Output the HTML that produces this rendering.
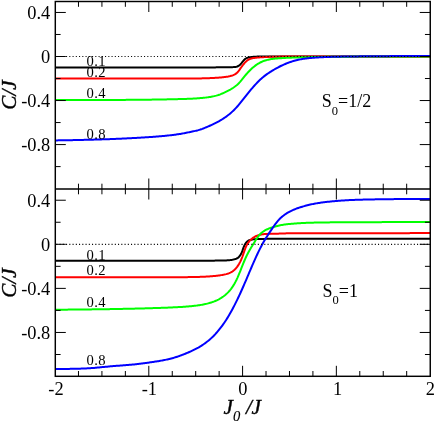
<!DOCTYPE html>
<html><head><meta charset="utf-8"><title>plot</title>
<style>
html,body{margin:0;padding:0;background:#fff;}
body{width:436px;height:424px;overflow:hidden;}
svg{display:block;}
text{font-family:"Liberation Serif",serif;fill:#000;}
.tl{font-size:18.4px;}
.cl{font-size:14.6px;letter-spacing:0.3px;}
.ax{font-size:21.2px;font-style:italic;stroke:#000;stroke-width:0.4px;}
.an{font-size:18px;}
</style></head><body>
<svg width="436" height="424" viewBox="0 0 436 424">
<rect x="0" y="0" width="436" height="424" fill="#fff"/>

<g fill="none" stroke-width="2" stroke-linejoin="round">
<path stroke="#000000" d="M55.3 67.50 L56.3 67.50 L57.3 67.50 L58.3 67.50 L59.3 67.50 L60.3 67.50 L61.3 67.50 L62.3 67.50 L63.3 67.50 L64.3 67.50 L65.3 67.50 L66.3 67.50 L67.3 67.50 L68.3 67.50 L69.3 67.50 L70.3 67.50 L71.3 67.50 L72.3 67.50 L73.3 67.50 L74.3 67.50 L75.3 67.50 L76.3 67.50 L77.3 67.50 L78.3 67.50 L79.3 67.50 L80.3 67.50 L81.3 67.50 L82.3 67.50 L83.3 67.50 L84.3 67.50 L85.3 67.50 L86.3 67.50 L87.3 67.50 L88.3 67.50 L89.3 67.50 L90.3 67.50 L91.3 67.50 L92.3 67.50 L93.3 67.50 L94.3 67.50 L95.3 67.50 L96.3 67.50 L97.3 67.50 L98.3 67.50 L99.3 67.50 L100.3 67.50 L101.3 67.50 L102.3 67.50 L103.3 67.50 L104.3 67.50 L105.3 67.50 L106.3 67.50 L107.3 67.50 L108.3 67.50 L109.3 67.50 L110.3 67.50 L111.3 67.50 L112.3 67.50 L113.3 67.50 L114.3 67.50 L115.3 67.50 L116.3 67.50 L117.3 67.50 L118.3 67.50 L119.3 67.50 L120.3 67.50 L121.3 67.50 L122.3 67.50 L123.3 67.50 L124.3 67.50 L125.3 67.50 L126.3 67.50 L127.3 67.50 L128.3 67.50 L129.3 67.50 L130.3 67.50 L131.3 67.50 L132.3 67.50 L133.3 67.50 L134.3 67.50 L135.3 67.50 L136.3 67.50 L137.3 67.50 L138.3 67.50 L139.3 67.50 L140.3 67.50 L141.3 67.50 L142.3 67.50 L143.3 67.50 L144.3 67.50 L145.3 67.50 L146.3 67.50 L147.3 67.50 L148.3 67.50 L149.3 67.50 L150.3 67.50 L151.3 67.50 L152.3 67.50 L153.3 67.50 L154.3 67.50 L155.3 67.50 L156.3 67.50 L157.3 67.50 L158.3 67.50 L159.3 67.50 L160.3 67.50 L161.3 67.50 L162.3 67.50 L163.3 67.50 L164.3 67.50 L165.3 67.50 L166.3 67.50 L167.3 67.50 L168.3 67.50 L169.3 67.50 L170.3 67.50 L171.3 67.50 L172.3 67.50 L173.3 67.50 L174.3 67.50 L175.3 67.50 L176.3 67.50 L177.3 67.50 L178.3 67.50 L179.3 67.50 L180.3 67.50 L181.3 67.50 L182.3 67.50 L183.3 67.50 L184.3 67.50 L185.3 67.50 L186.3 67.50 L187.3 67.50 L188.3 67.50 L189.3 67.50 L190.3 67.50 L191.3 67.50 L192.3 67.50 L193.3 67.50 L194.3 67.50 L195.3 67.50 L196.3 67.50 L197.3 67.50 L198.3 67.50 L199.3 67.50 L200.3 67.50 L201.3 67.50 L202.3 67.50 L203.3 67.50 L204.3 67.50 L205.3 67.50 L206.3 67.50 L207.3 67.49 L208.3 67.49 L209.3 67.49 L210.3 67.48 L211.3 67.47 L212.3 67.46 L213.3 67.44 L214.3 67.42 L215.3 67.39 L216.3 67.36 L217.3 67.33 L218.3 67.30 L219.3 67.27 L220.3 67.25 L221.3 67.23 L222.3 67.22 L223.3 67.21 L224.3 67.21 L225.3 67.20 L226.3 67.20 L227.3 67.20 L228.3 67.19 L229.3 67.19 L230.3 67.18 L231.3 67.16 L232.3 67.14 L233.3 67.10 L234.3 67.03 L235.3 66.93 L236.3 66.75 L237.3 66.47 L238.3 66.03 L239.3 65.38 L240.3 64.49 L241.3 63.35 L242.3 62.07 L243.3 60.81 L244.3 59.71 L245.3 58.86 L246.3 58.25 L247.3 57.84 L248.3 57.55 L249.3 57.32 L250.3 57.12 L251.3 56.97 L252.3 56.89 L253.3 56.85 L254.3 56.82 L255.3 56.76 L256.3 56.67 L257.3 56.58 L258.3 56.53 L259.3 56.51 L260.3 56.50 L261.3 56.50 L262.3 56.50 L263.3 56.50 L264.3 56.50 L265.3 56.50 L266.3 56.50 L267.3 56.50 L268.3 56.50 L269.3 56.50 L270.3 56.50 L271.3 56.50 L272.3 56.50 L273.3 56.50 L274.3 56.50 L275.3 56.50 L276.3 56.50 L277.3 56.50 L278.3 56.50 L279.3 56.50 L280.3 56.50 L281.3 56.50 L282.3 56.50 L283.3 56.50 L284.3 56.50 L285.3 56.50 L286.3 56.50 L287.3 56.50 L288.3 56.50 L289.3 56.50 L290.3 56.50 L291.3 56.50 L292.3 56.50 L293.3 56.50 L294.3 56.50 L295.3 56.50 L296.3 56.50 L297.3 56.50 L298.3 56.50 L299.3 56.50 L300.3 56.50 L301.3 56.50 L302.3 56.50 L303.3 56.50 L304.3 56.50 L305.3 56.50 L306.3 56.50 L307.3 56.50 L308.3 56.50 L309.3 56.50 L310.3 56.50 L311.3 56.50 L312.3 56.50 L313.3 56.50 L314.3 56.50 L315.3 56.50 L316.3 56.50 L317.3 56.50 L318.3 56.50 L319.3 56.50 L320.3 56.50 L321.3 56.50 L322.3 56.50 L323.3 56.50 L324.3 56.50 L325.3 56.50 L326.3 56.50 L327.3 56.50 L328.3 56.50 L329.3 56.50 L330.3 56.50 L331.3 56.50 L332.3 56.50 L333.3 56.50 L334.3 56.50 L335.3 56.50 L336.3 56.50 L337.3 56.50 L338.3 56.50 L339.3 56.50 L340.3 56.50 L341.3 56.50 L342.3 56.50 L343.3 56.50 L344.3 56.50 L345.3 56.50 L346.3 56.50 L347.3 56.50 L348.3 56.50 L349.3 56.50 L350.3 56.50 L351.3 56.50 L352.3 56.50 L353.3 56.50 L354.3 56.50 L355.3 56.50 L356.3 56.50 L357.3 56.50 L358.3 56.50 L359.3 56.50 L360.3 56.50 L361.3 56.50 L362.3 56.50 L363.3 56.50 L364.3 56.50 L365.3 56.50 L366.3 56.50 L367.3 56.50 L368.3 56.50 L369.3 56.50 L370.3 56.50 L371.3 56.50 L372.3 56.50 L373.3 56.50 L374.3 56.50 L375.3 56.50 L376.3 56.50 L377.3 56.50 L378.3 56.50 L379.3 56.50 L380.3 56.50 L381.3 56.50 L382.3 56.50 L383.3 56.50 L384.3 56.50 L385.3 56.50 L386.3 56.50 L387.3 56.50 L388.3 56.50 L389.3 56.50 L390.3 56.50 L391.3 56.50 L392.3 56.50 L393.3 56.50 L394.3 56.50 L395.3 56.50 L396.3 56.50 L397.3 56.50 L398.3 56.50 L399.3 56.50 L400.3 56.50 L401.3 56.50 L402.3 56.50 L403.3 56.50 L404.3 56.50 L405.3 56.50 L406.3 56.50 L407.3 56.50 L408.3 56.50 L409.3 56.50 L410.3 56.50 L411.3 56.50 L412.3 56.50 L413.3 56.50 L414.3 56.50 L415.3 56.50 L416.3 56.50 L417.3 56.50 L418.3 56.50 L419.3 56.50 L420.3 56.50 L421.3 56.50 L422.3 56.50 L423.3 56.50 L424.3 56.50 L425.3 56.50 L426.3 56.50 L427.3 56.50 L428.3 56.50 L429.3 56.50 L430.2 56.50"/>
<path stroke="#ff0000" d="M55.3 78.60 L56.3 78.60 L57.3 78.60 L58.3 78.60 L59.3 78.60 L60.3 78.60 L61.3 78.60 L62.3 78.60 L63.3 78.60 L64.3 78.60 L65.3 78.60 L66.3 78.60 L67.3 78.60 L68.3 78.60 L69.3 78.60 L70.3 78.60 L71.3 78.60 L72.3 78.60 L73.3 78.60 L74.3 78.60 L75.3 78.60 L76.3 78.60 L77.3 78.60 L78.3 78.60 L79.3 78.60 L80.3 78.60 L81.3 78.60 L82.3 78.60 L83.3 78.60 L84.3 78.60 L85.3 78.60 L86.3 78.60 L87.3 78.60 L88.3 78.60 L89.3 78.60 L90.3 78.60 L91.3 78.60 L92.3 78.60 L93.3 78.60 L94.3 78.60 L95.3 78.60 L96.3 78.60 L97.3 78.60 L98.3 78.60 L99.3 78.60 L100.3 78.60 L101.3 78.60 L102.3 78.60 L103.3 78.60 L104.3 78.60 L105.3 78.60 L106.3 78.60 L107.3 78.60 L108.3 78.60 L109.3 78.60 L110.3 78.60 L111.3 78.60 L112.3 78.60 L113.3 78.60 L114.3 78.60 L115.3 78.60 L116.3 78.60 L117.3 78.60 L118.3 78.60 L119.3 78.60 L120.3 78.60 L121.3 78.60 L122.3 78.60 L123.3 78.60 L124.3 78.60 L125.3 78.60 L126.3 78.60 L127.3 78.60 L128.3 78.60 L129.3 78.60 L130.3 78.60 L131.3 78.60 L132.3 78.60 L133.3 78.60 L134.3 78.60 L135.3 78.60 L136.3 78.60 L137.3 78.60 L138.3 78.60 L139.3 78.60 L140.3 78.60 L141.3 78.60 L142.3 78.60 L143.3 78.60 L144.3 78.60 L145.3 78.60 L146.3 78.60 L147.3 78.60 L148.3 78.60 L149.3 78.60 L150.3 78.60 L151.3 78.60 L152.3 78.60 L153.3 78.60 L154.3 78.60 L155.3 78.60 L156.3 78.60 L157.3 78.60 L158.3 78.60 L159.3 78.60 L160.3 78.60 L161.3 78.60 L162.3 78.60 L163.3 78.60 L164.3 78.60 L165.3 78.60 L166.3 78.59 L167.3 78.59 L168.3 78.59 L169.3 78.59 L170.3 78.59 L171.3 78.59 L172.3 78.59 L173.3 78.59 L174.3 78.58 L175.3 78.58 L176.3 78.58 L177.3 78.58 L178.3 78.58 L179.3 78.57 L180.3 78.57 L181.3 78.57 L182.3 78.56 L183.3 78.56 L184.3 78.55 L185.3 78.55 L186.3 78.54 L187.3 78.54 L188.3 78.53 L189.3 78.53 L190.3 78.52 L191.3 78.51 L192.3 78.50 L193.3 78.49 L194.3 78.48 L195.3 78.47 L196.3 78.46 L197.3 78.44 L198.3 78.43 L199.3 78.41 L200.3 78.40 L201.3 78.38 L202.3 78.36 L203.3 78.33 L204.3 78.31 L205.3 78.28 L206.3 78.25 L207.3 78.22 L208.3 78.19 L209.3 78.15 L210.3 78.11 L211.3 78.06 L212.3 78.02 L213.3 77.97 L214.3 77.91 L215.3 77.85 L216.3 77.79 L217.3 77.72 L218.3 77.65 L219.3 77.57 L220.3 77.48 L221.3 77.40 L222.3 77.30 L223.3 77.20 L224.3 77.09 L225.3 76.97 L226.3 76.85 L227.3 76.71 L228.3 76.55 L229.3 76.35 L230.3 76.08 L231.3 75.78 L232.3 75.47 L233.3 75.12 L234.3 74.70 L235.3 74.14 L236.3 73.42 L237.3 72.49 L238.3 71.36 L239.3 70.05 L240.3 68.64 L241.3 67.21 L242.3 65.82 L243.3 64.51 L244.3 63.30 L245.3 62.19 L246.3 61.23 L247.3 60.41 L248.3 59.75 L249.3 59.23 L250.3 58.83 L251.3 58.52 L252.3 58.28 L253.3 58.08 L254.3 57.92 L255.3 57.79 L256.3 57.67 L257.3 57.57 L258.3 57.48 L259.3 57.40 L260.3 57.32 L261.3 57.25 L262.3 57.19 L263.3 57.13 L264.3 57.08 L265.3 57.03 L266.3 56.98 L267.3 56.94 L268.3 56.90 L269.3 56.87 L270.3 56.83 L271.3 56.80 L272.3 56.77 L273.3 56.75 L274.3 56.72 L275.3 56.70 L276.3 56.68 L277.3 56.66 L278.3 56.65 L279.3 56.63 L280.3 56.62 L281.3 56.60 L282.3 56.59 L283.3 56.58 L284.3 56.57 L285.3 56.56 L286.3 56.55 L287.3 56.54 L288.3 56.54 L289.3 56.53 L290.3 56.53 L291.3 56.52 L292.3 56.51 L293.3 56.51 L294.3 56.51 L295.3 56.50 L296.3 56.50 L297.3 56.50 L298.3 56.49 L299.3 56.49 L300.3 56.49 L301.3 56.49 L302.3 56.48 L303.3 56.48 L304.3 56.48 L305.3 56.48 L306.3 56.48 L307.3 56.48 L308.3 56.47 L309.3 56.47 L310.3 56.47 L311.3 56.47 L312.3 56.47 L313.3 56.47 L314.3 56.47 L315.3 56.47 L316.3 56.47 L317.3 56.47 L318.3 56.47 L319.3 56.47 L320.3 56.47 L321.3 56.47 L322.3 56.47 L323.3 56.47 L324.3 56.47 L325.3 56.47 L326.3 56.47 L327.3 56.46 L328.3 56.46 L329.3 56.46 L330.3 56.46 L331.3 56.46 L332.3 56.46 L333.3 56.46 L334.3 56.46 L335.3 56.46 L336.3 56.46 L337.3 56.46 L338.3 56.46 L339.3 56.46 L340.3 56.46 L341.3 56.46 L342.3 56.46 L343.3 56.46 L344.3 56.46 L345.3 56.46 L346.3 56.46 L347.3 56.46 L348.3 56.46 L349.3 56.46 L350.3 56.46 L351.3 56.46 L352.3 56.46 L353.3 56.46 L354.3 56.46 L355.3 56.46 L356.3 56.46 L357.3 56.46 L358.3 56.46 L359.3 56.46 L360.3 56.46 L361.3 56.46 L362.3 56.46 L363.3 56.46 L364.3 56.46 L365.3 56.46 L366.3 56.46 L367.3 56.46 L368.3 56.46 L369.3 56.46 L370.3 56.46 L371.3 56.46 L372.3 56.46 L373.3 56.46 L374.3 56.46 L375.3 56.46 L376.3 56.46 L377.3 56.46 L378.3 56.46 L379.3 56.46 L380.3 56.46 L381.3 56.46 L382.3 56.46 L383.3 56.46 L384.3 56.46 L385.3 56.46 L386.3 56.46 L387.3 56.46 L388.3 56.46 L389.3 56.46 L390.3 56.46 L391.3 56.46 L392.3 56.46 L393.3 56.46 L394.3 56.46 L395.3 56.46 L396.3 56.46 L397.3 56.46 L398.3 56.46 L399.3 56.46 L400.3 56.46 L401.3 56.46 L402.3 56.46 L403.3 56.46 L404.3 56.46 L405.3 56.46 L406.3 56.46 L407.3 56.46 L408.3 56.46 L409.3 56.46 L410.3 56.46 L411.3 56.46 L412.3 56.46 L413.3 56.46 L414.3 56.46 L415.3 56.46 L416.3 56.46 L417.3 56.46 L418.3 56.46 L419.3 56.46 L420.3 56.46 L421.3 56.46 L422.3 56.46 L423.3 56.46 L424.3 56.46 L425.3 56.46 L426.3 56.46 L427.3 56.46 L428.3 56.46 L429.3 56.46 L430.2 56.46"/>
<path stroke="#00ff00" d="M55.3 100.09 L56.3 100.09 L57.3 100.09 L58.3 100.09 L59.3 100.09 L60.3 100.09 L61.3 100.09 L62.3 100.09 L63.3 100.08 L64.3 100.08 L65.3 100.08 L66.3 100.08 L67.3 100.08 L68.3 100.08 L69.3 100.08 L70.3 100.07 L71.3 100.07 L72.3 100.07 L73.3 100.07 L74.3 100.07 L75.3 100.07 L76.3 100.06 L77.3 100.06 L78.3 100.06 L79.3 100.06 L80.3 100.06 L81.3 100.06 L82.3 100.05 L83.3 100.05 L84.3 100.05 L85.3 100.05 L86.3 100.04 L87.3 100.04 L88.3 100.04 L89.3 100.04 L90.3 100.03 L91.3 100.03 L92.3 100.03 L93.3 100.03 L94.3 100.02 L95.3 100.02 L96.3 100.02 L97.3 100.01 L98.3 100.01 L99.3 100.01 L100.3 100.00 L101.3 100.00 L102.3 100.00 L103.3 99.99 L104.3 99.99 L105.3 99.99 L106.3 99.98 L107.3 99.98 L108.3 99.97 L109.3 99.97 L110.3 99.96 L111.3 99.96 L112.3 99.95 L113.3 99.95 L114.3 99.94 L115.3 99.94 L116.3 99.93 L117.3 99.93 L118.3 99.92 L119.3 99.92 L120.3 99.91 L121.3 99.91 L122.3 99.90 L123.3 99.89 L124.3 99.89 L125.3 99.88 L126.3 99.87 L127.3 99.87 L128.3 99.86 L129.3 99.85 L130.3 99.84 L131.3 99.84 L132.3 99.83 L133.3 99.82 L134.3 99.81 L135.3 99.80 L136.3 99.79 L137.3 99.78 L138.3 99.78 L139.3 99.77 L140.3 99.76 L141.3 99.75 L142.3 99.74 L143.3 99.73 L144.3 99.71 L145.3 99.70 L146.3 99.69 L147.3 99.68 L148.3 99.67 L149.3 99.66 L150.3 99.64 L151.3 99.63 L152.3 99.62 L153.3 99.60 L154.3 99.59 L155.3 99.57 L156.3 99.56 L157.3 99.55 L158.3 99.53 L159.3 99.51 L160.3 99.50 L161.3 99.48 L162.3 99.46 L163.3 99.45 L164.3 99.43 L165.3 99.41 L166.3 99.39 L167.3 99.37 L168.3 99.35 L169.3 99.33 L170.3 99.31 L171.3 99.29 L172.3 99.27 L173.3 99.25 L174.3 99.22 L175.3 99.20 L176.3 99.17 L177.3 99.15 L178.3 99.12 L179.3 99.10 L180.3 99.07 L181.3 99.04 L182.3 99.01 L183.3 98.98 L184.3 98.95 L185.3 98.91 L186.3 98.88 L187.3 98.84 L188.3 98.80 L189.3 98.76 L190.3 98.72 L191.3 98.68 L192.3 98.63 L193.3 98.58 L194.3 98.52 L195.3 98.47 L196.3 98.41 L197.3 98.34 L198.3 98.27 L199.3 98.20 L200.3 98.12 L201.3 98.03 L202.3 97.94 L203.3 97.84 L204.3 97.73 L205.3 97.62 L206.3 97.50 L207.3 97.37 L208.3 97.24 L209.3 97.10 L210.3 96.94 L211.3 96.77 L212.3 96.58 L213.3 96.38 L214.3 96.15 L215.3 95.90 L216.3 95.64 L217.3 95.34 L218.3 95.03 L219.3 94.69 L220.3 94.33 L221.3 93.94 L222.3 93.53 L223.3 93.10 L224.3 92.66 L225.3 92.20 L226.3 91.72 L227.3 91.22 L228.3 90.70 L229.3 90.16 L230.3 89.60 L231.3 89.01 L232.3 88.39 L233.3 87.74 L234.3 87.05 L235.3 86.31 L236.3 85.51 L237.3 84.65 L238.3 83.71 L239.3 82.70 L240.3 81.60 L241.3 80.44 L242.3 79.21 L243.3 77.95 L244.3 76.69 L245.3 75.44 L246.3 74.24 L247.3 73.09 L248.3 71.99 L249.3 70.95 L250.3 69.96 L251.3 69.01 L252.3 68.10 L253.3 67.23 L254.3 66.41 L255.3 65.62 L256.3 64.89 L257.3 64.22 L258.3 63.59 L259.3 63.01 L260.3 62.48 L261.3 62.00 L262.3 61.55 L263.3 61.15 L264.3 60.78 L265.3 60.45 L266.3 60.16 L267.3 59.90 L268.3 59.66 L269.3 59.45 L270.3 59.26 L271.3 59.10 L272.3 58.95 L273.3 58.82 L274.3 58.70 L275.3 58.60 L276.3 58.50 L277.3 58.42 L278.3 58.34 L279.3 58.26 L280.3 58.19 L281.3 58.13 L282.3 58.07 L283.3 58.01 L284.3 57.95 L285.3 57.90 L286.3 57.85 L287.3 57.80 L288.3 57.76 L289.3 57.71 L290.3 57.67 L291.3 57.63 L292.3 57.59 L293.3 57.55 L294.3 57.51 L295.3 57.48 L296.3 57.44 L297.3 57.41 L298.3 57.38 L299.3 57.36 L300.3 57.33 L301.3 57.30 L302.3 57.28 L303.3 57.26 L304.3 57.24 L305.3 57.21 L306.3 57.19 L307.3 57.17 L308.3 57.15 L309.3 57.13 L310.3 57.11 L311.3 57.09 L312.3 57.08 L313.3 57.06 L314.3 57.04 L315.3 57.02 L316.3 57.01 L317.3 56.99 L318.3 56.98 L319.3 56.96 L320.3 56.94 L321.3 56.93 L322.3 56.91 L323.3 56.90 L324.3 56.89 L325.3 56.87 L326.3 56.86 L327.3 56.85 L328.3 56.83 L329.3 56.82 L330.3 56.81 L331.3 56.80 L332.3 56.79 L333.3 56.78 L334.3 56.76 L335.3 56.75 L336.3 56.74 L337.3 56.73 L338.3 56.72 L339.3 56.71 L340.3 56.70 L341.3 56.70 L342.3 56.69 L343.3 56.68 L344.3 56.67 L345.3 56.66 L346.3 56.65 L347.3 56.64 L348.3 56.64 L349.3 56.63 L350.3 56.62 L351.3 56.62 L352.3 56.61 L353.3 56.60 L354.3 56.60 L355.3 56.59 L356.3 56.58 L357.3 56.58 L358.3 56.57 L359.3 56.56 L360.3 56.56 L361.3 56.55 L362.3 56.55 L363.3 56.54 L364.3 56.54 L365.3 56.53 L366.3 56.53 L367.3 56.52 L368.3 56.52 L369.3 56.52 L370.3 56.51 L371.3 56.51 L372.3 56.50 L373.3 56.50 L374.3 56.49 L375.3 56.49 L376.3 56.49 L377.3 56.48 L378.3 56.48 L379.3 56.48 L380.3 56.47 L381.3 56.47 L382.3 56.47 L383.3 56.46 L384.3 56.46 L385.3 56.46 L386.3 56.46 L387.3 56.45 L388.3 56.45 L389.3 56.45 L390.3 56.45 L391.3 56.44 L392.3 56.44 L393.3 56.44 L394.3 56.44 L395.3 56.43 L396.3 56.43 L397.3 56.43 L398.3 56.43 L399.3 56.43 L400.3 56.42 L401.3 56.42 L402.3 56.42 L403.3 56.42 L404.3 56.42 L405.3 56.42 L406.3 56.41 L407.3 56.41 L408.3 56.41 L409.3 56.41 L410.3 56.41 L411.3 56.41 L412.3 56.41 L413.3 56.40 L414.3 56.40 L415.3 56.40 L416.3 56.40 L417.3 56.40 L418.3 56.40 L419.3 56.40 L420.3 56.40 L421.3 56.39 L422.3 56.39 L423.3 56.39 L424.3 56.39 L425.3 56.39 L426.3 56.39 L427.3 56.39 L428.3 56.39 L429.3 56.39 L430.2 56.39"/>
<path stroke="#0000ff" d="M55.3 140.40 L56.3 140.39 L57.3 140.38 L58.3 140.36 L59.3 140.35 L60.3 140.33 L61.3 140.32 L62.3 140.30 L63.3 140.28 L64.3 140.27 L65.3 140.25 L66.3 140.24 L67.3 140.22 L68.3 140.20 L69.3 140.18 L70.3 140.16 L71.3 140.15 L72.3 140.13 L73.3 140.11 L74.3 140.09 L75.3 140.07 L76.3 140.05 L77.3 140.03 L78.3 140.01 L79.3 139.99 L80.3 139.96 L81.3 139.94 L82.3 139.92 L83.3 139.90 L84.3 139.87 L85.3 139.85 L86.3 139.82 L87.3 139.80 L88.3 139.77 L89.3 139.75 L90.3 139.72 L91.3 139.70 L92.3 139.67 L93.3 139.64 L94.3 139.61 L95.3 139.59 L96.3 139.56 L97.3 139.53 L98.3 139.50 L99.3 139.47 L100.3 139.43 L101.3 139.40 L102.3 139.37 L103.3 139.34 L104.3 139.31 L105.3 139.27 L106.3 139.24 L107.3 139.20 L108.3 139.17 L109.3 139.13 L110.3 139.09 L111.3 139.06 L112.3 139.02 L113.3 138.98 L114.3 138.94 L115.3 138.90 L116.3 138.86 L117.3 138.82 L118.3 138.78 L119.3 138.74 L120.3 138.69 L121.3 138.65 L122.3 138.60 L123.3 138.56 L124.3 138.51 L125.3 138.47 L126.3 138.42 L127.3 138.37 L128.3 138.32 L129.3 138.27 L130.3 138.22 L131.3 138.17 L132.3 138.12 L133.3 138.07 L134.3 138.01 L135.3 137.96 L136.3 137.90 L137.3 137.85 L138.3 137.79 L139.3 137.73 L140.3 137.67 L141.3 137.62 L142.3 137.55 L143.3 137.49 L144.3 137.43 L145.3 137.37 L146.3 137.30 L147.3 137.24 L148.3 137.17 L149.3 137.10 L150.3 137.03 L151.3 136.96 L152.3 136.89 L153.3 136.81 L154.3 136.74 L155.3 136.66 L156.3 136.58 L157.3 136.50 L158.3 136.42 L159.3 136.34 L160.3 136.25 L161.3 136.17 L162.3 136.08 L163.3 135.99 L164.3 135.89 L165.3 135.79 L166.3 135.69 L167.3 135.59 L168.3 135.49 L169.3 135.38 L170.3 135.26 L171.3 135.15 L172.3 135.03 L173.3 134.90 L174.3 134.77 L175.3 134.64 L176.3 134.50 L177.3 134.36 L178.3 134.21 L179.3 134.05 L180.3 133.89 L181.3 133.72 L182.3 133.55 L183.3 133.37 L184.3 133.18 L185.3 132.99 L186.3 132.79 L187.3 132.59 L188.3 132.39 L189.3 132.19 L190.3 131.98 L191.3 131.77 L192.3 131.56 L193.3 131.35 L194.3 131.13 L195.3 130.90 L196.3 130.66 L197.3 130.41 L198.3 130.14 L199.3 129.84 L200.3 129.53 L201.3 129.19 L202.3 128.84 L203.3 128.46 L204.3 128.07 L205.3 127.67 L206.3 127.26 L207.3 126.84 L208.3 126.40 L209.3 125.96 L210.3 125.51 L211.3 125.06 L212.3 124.59 L213.3 124.12 L214.3 123.63 L215.3 123.14 L216.3 122.63 L217.3 122.11 L218.3 121.57 L219.3 121.02 L220.3 120.45 L221.3 119.86 L222.3 119.24 L223.3 118.61 L224.3 117.95 L225.3 117.27 L226.3 116.56 L227.3 115.82 L228.3 115.05 L229.3 114.25 L230.3 113.41 L231.3 112.54 L232.3 111.63 L233.3 110.68 L234.3 109.69 L235.3 108.66 L236.3 107.59 L237.3 106.48 L238.3 105.33 L239.3 104.15 L240.3 102.95 L241.3 101.71 L242.3 100.46 L243.3 99.20 L244.3 97.93 L245.3 96.65 L246.3 95.38 L247.3 94.11 L248.3 92.86 L249.3 91.62 L250.3 90.41 L251.3 89.21 L252.3 88.04 L253.3 86.89 L254.3 85.76 L255.3 84.66 L256.3 83.58 L257.3 82.53 L258.3 81.51 L259.3 80.52 L260.3 79.57 L261.3 78.65 L262.3 77.77 L263.3 76.92 L264.3 76.11 L265.3 75.34 L266.3 74.60 L267.3 73.89 L268.3 73.21 L269.3 72.55 L270.3 71.91 L271.3 71.29 L272.3 70.68 L273.3 70.08 L274.3 69.50 L275.3 68.92 L276.3 68.36 L277.3 67.82 L278.3 67.28 L279.3 66.76 L280.3 66.26 L281.3 65.77 L282.3 65.30 L283.3 64.84 L284.3 64.39 L285.3 63.96 L286.3 63.55 L287.3 63.15 L288.3 62.76 L289.3 62.39 L290.3 62.03 L291.3 61.70 L292.3 61.38 L293.3 61.08 L294.3 60.79 L295.3 60.52 L296.3 60.26 L297.3 60.01 L298.3 59.78 L299.3 59.57 L300.3 59.36 L301.3 59.18 L302.3 59.00 L303.3 58.85 L304.3 58.70 L305.3 58.57 L306.3 58.44 L307.3 58.33 L308.3 58.22 L309.3 58.12 L310.3 58.03 L311.3 57.94 L312.3 57.86 L313.3 57.77 L314.3 57.70 L315.3 57.62 L316.3 57.55 L317.3 57.48 L318.3 57.42 L319.3 57.36 L320.3 57.31 L321.3 57.26 L322.3 57.21 L323.3 57.16 L324.3 57.12 L325.3 57.07 L326.3 57.03 L327.3 56.99 L328.3 56.96 L329.3 56.92 L330.3 56.89 L331.3 56.85 L332.3 56.82 L333.3 56.79 L334.3 56.77 L335.3 56.74 L336.3 56.71 L337.3 56.69 L338.3 56.67 L339.3 56.65 L340.3 56.63 L341.3 56.61 L342.3 56.60 L343.3 56.58 L344.3 56.56 L345.3 56.55 L346.3 56.53 L347.3 56.52 L348.3 56.51 L349.3 56.49 L350.3 56.48 L351.3 56.47 L352.3 56.45 L353.3 56.44 L354.3 56.43 L355.3 56.42 L356.3 56.40 L357.3 56.39 L358.3 56.38 L359.3 56.37 L360.3 56.36 L361.3 56.35 L362.3 56.34 L363.3 56.33 L364.3 56.32 L365.3 56.31 L366.3 56.30 L367.3 56.29 L368.3 56.28 L369.3 56.27 L370.3 56.26 L371.3 56.25 L372.3 56.25 L373.3 56.24 L374.3 56.23 L375.3 56.22 L376.3 56.21 L377.3 56.21 L378.3 56.20 L379.3 56.19 L380.3 56.18 L381.3 56.18 L382.3 56.17 L383.3 56.16 L384.3 56.16 L385.3 56.15 L386.3 56.14 L387.3 56.14 L388.3 56.13 L389.3 56.13 L390.3 56.12 L391.3 56.11 L392.3 56.11 L393.3 56.10 L394.3 56.10 L395.3 56.09 L396.3 56.09 L397.3 56.08 L398.3 56.08 L399.3 56.07 L400.3 56.07 L401.3 56.06 L402.3 56.06 L403.3 56.06 L404.3 56.05 L405.3 56.05 L406.3 56.04 L407.3 56.04 L408.3 56.03 L409.3 56.03 L410.3 56.03 L411.3 56.02 L412.3 56.02 L413.3 56.02 L414.3 56.01 L415.3 56.01 L416.3 56.00 L417.3 56.00 L418.3 56.00 L419.3 56.00 L420.3 55.99 L421.3 55.99 L422.3 55.99 L423.3 55.98 L424.3 55.98 L425.3 55.98 L426.3 55.97 L427.3 55.97 L428.3 55.97 L429.3 55.97 L430.2 55.96"/>
<path stroke="#000000" d="M55.3 260.64 L56.3 260.64 L57.3 260.64 L58.3 260.64 L59.3 260.64 L60.3 260.64 L61.3 260.64 L62.3 260.64 L63.3 260.64 L64.3 260.64 L65.3 260.64 L66.3 260.64 L67.3 260.64 L68.3 260.64 L69.3 260.64 L70.3 260.64 L71.3 260.64 L72.3 260.64 L73.3 260.64 L74.3 260.64 L75.3 260.64 L76.3 260.64 L77.3 260.64 L78.3 260.64 L79.3 260.64 L80.3 260.64 L81.3 260.64 L82.3 260.64 L83.3 260.64 L84.3 260.64 L85.3 260.64 L86.3 260.64 L87.3 260.64 L88.3 260.64 L89.3 260.64 L90.3 260.64 L91.3 260.64 L92.3 260.64 L93.3 260.64 L94.3 260.64 L95.3 260.64 L96.3 260.64 L97.3 260.64 L98.3 260.64 L99.3 260.64 L100.3 260.64 L101.3 260.64 L102.3 260.64 L103.3 260.64 L104.3 260.64 L105.3 260.64 L106.3 260.64 L107.3 260.64 L108.3 260.64 L109.3 260.64 L110.3 260.64 L111.3 260.64 L112.3 260.64 L113.3 260.64 L114.3 260.64 L115.3 260.64 L116.3 260.64 L117.3 260.64 L118.3 260.64 L119.3 260.64 L120.3 260.64 L121.3 260.64 L122.3 260.64 L123.3 260.64 L124.3 260.64 L125.3 260.64 L126.3 260.64 L127.3 260.64 L128.3 260.64 L129.3 260.64 L130.3 260.64 L131.3 260.64 L132.3 260.64 L133.3 260.64 L134.3 260.64 L135.3 260.64 L136.3 260.64 L137.3 260.64 L138.3 260.64 L139.3 260.64 L140.3 260.64 L141.3 260.64 L142.3 260.64 L143.3 260.64 L144.3 260.64 L145.3 260.64 L146.3 260.64 L147.3 260.64 L148.3 260.64 L149.3 260.64 L150.3 260.64 L151.3 260.64 L152.3 260.64 L153.3 260.64 L154.3 260.64 L155.3 260.64 L156.3 260.64 L157.3 260.64 L158.3 260.64 L159.3 260.64 L160.3 260.64 L161.3 260.64 L162.3 260.64 L163.3 260.64 L164.3 260.64 L165.3 260.64 L166.3 260.64 L167.3 260.64 L168.3 260.64 L169.3 260.64 L170.3 260.64 L171.3 260.64 L172.3 260.64 L173.3 260.64 L174.3 260.64 L175.3 260.64 L176.3 260.64 L177.3 260.64 L178.3 260.64 L179.3 260.64 L180.3 260.64 L181.3 260.64 L182.3 260.64 L183.3 260.64 L184.3 260.64 L185.3 260.64 L186.3 260.64 L187.3 260.64 L188.3 260.64 L189.3 260.64 L190.3 260.64 L191.3 260.64 L192.3 260.64 L193.3 260.64 L194.3 260.64 L195.3 260.64 L196.3 260.64 L197.3 260.64 L198.3 260.64 L199.3 260.64 L200.3 260.64 L201.3 260.64 L202.3 260.64 L203.3 260.64 L204.3 260.64 L205.3 260.64 L206.3 260.64 L207.3 260.64 L208.3 260.64 L209.3 260.64 L210.3 260.64 L211.3 260.63 L212.3 260.63 L213.3 260.63 L214.3 260.63 L215.3 260.62 L216.3 260.62 L217.3 260.61 L218.3 260.60 L219.3 260.59 L220.3 260.57 L221.3 260.56 L222.3 260.54 L223.3 260.51 L224.3 260.48 L225.3 260.44 L226.3 260.39 L227.3 260.32 L228.3 260.25 L229.3 260.15 L230.3 260.04 L231.3 259.90 L232.3 259.74 L233.3 259.54 L234.3 259.30 L235.3 259.03 L236.3 258.69 L237.3 258.25 L238.3 257.58 L239.3 256.55 L240.3 255.19 L241.3 253.56 L242.3 251.18 L243.3 248.17 L244.3 245.62 L245.3 243.79 L246.3 242.43 L247.3 241.42 L248.3 240.72 L249.3 240.24 L250.3 239.91 L251.3 239.67 L252.3 239.50 L253.3 239.36 L254.3 239.26 L255.3 239.17 L256.3 239.10 L257.3 239.05 L258.3 239.01 L259.3 238.97 L260.3 238.95 L261.3 238.92 L262.3 238.91 L263.3 238.89 L264.3 238.88 L265.3 238.87 L266.3 238.86 L267.3 238.86 L268.3 238.85 L269.3 238.85 L270.3 238.85 L271.3 238.84 L272.3 238.84 L273.3 238.84 L274.3 238.84 L275.3 238.84 L276.3 238.84 L277.3 238.84 L278.3 238.84 L279.3 238.84 L280.3 238.84 L281.3 238.84 L282.3 238.84 L283.3 238.83 L284.3 238.83 L285.3 238.83 L286.3 238.83 L287.3 238.83 L288.3 238.83 L289.3 238.83 L290.3 238.83 L291.3 238.83 L292.3 238.83 L293.3 238.83 L294.3 238.83 L295.3 238.83 L296.3 238.83 L297.3 238.83 L298.3 238.83 L299.3 238.83 L300.3 238.83 L301.3 238.83 L302.3 238.83 L303.3 238.83 L304.3 238.83 L305.3 238.83 L306.3 238.83 L307.3 238.83 L308.3 238.83 L309.3 238.83 L310.3 238.83 L311.3 238.83 L312.3 238.83 L313.3 238.83 L314.3 238.83 L315.3 238.83 L316.3 238.83 L317.3 238.83 L318.3 238.83 L319.3 238.83 L320.3 238.83 L321.3 238.83 L322.3 238.83 L323.3 238.83 L324.3 238.83 L325.3 238.83 L326.3 238.83 L327.3 238.83 L328.3 238.83 L329.3 238.83 L330.3 238.83 L331.3 238.83 L332.3 238.83 L333.3 238.83 L334.3 238.83 L335.3 238.83 L336.3 238.83 L337.3 238.83 L338.3 238.83 L339.3 238.83 L340.3 238.83 L341.3 238.83 L342.3 238.83 L343.3 238.83 L344.3 238.83 L345.3 238.83 L346.3 238.83 L347.3 238.83 L348.3 238.83 L349.3 238.83 L350.3 238.83 L351.3 238.83 L352.3 238.83 L353.3 238.83 L354.3 238.83 L355.3 238.83 L356.3 238.83 L357.3 238.83 L358.3 238.83 L359.3 238.83 L360.3 238.83 L361.3 238.83 L362.3 238.83 L363.3 238.83 L364.3 238.83 L365.3 238.83 L366.3 238.83 L367.3 238.83 L368.3 238.83 L369.3 238.83 L370.3 238.83 L371.3 238.83 L372.3 238.83 L373.3 238.83 L374.3 238.83 L375.3 238.83 L376.3 238.83 L377.3 238.83 L378.3 238.83 L379.3 238.83 L380.3 238.83 L381.3 238.83 L382.3 238.83 L383.3 238.83 L384.3 238.83 L385.3 238.83 L386.3 238.83 L387.3 238.83 L388.3 238.83 L389.3 238.83 L390.3 238.83 L391.3 238.83 L392.3 238.83 L393.3 238.83 L394.3 238.83 L395.3 238.83 L396.3 238.83 L397.3 238.83 L398.3 238.83 L399.3 238.83 L400.3 238.83 L401.3 238.83 L402.3 238.83 L403.3 238.83 L404.3 238.83 L405.3 238.83 L406.3 238.83 L407.3 238.83 L408.3 238.83 L409.3 238.83 L410.3 238.83 L411.3 238.83 L412.3 238.83 L413.3 238.83 L414.3 238.83 L415.3 238.83 L416.3 238.83 L417.3 238.83 L418.3 238.83 L419.3 238.83 L420.3 238.83 L421.3 238.83 L422.3 238.83 L423.3 238.83 L424.3 238.83 L425.3 238.83 L426.3 238.83 L427.3 238.83 L428.3 238.83 L429.3 238.83 L430.2 238.83"/>
<path stroke="#ff0000" d="M55.3 277.26 L56.3 277.26 L57.3 277.26 L58.3 277.26 L59.3 277.26 L60.3 277.26 L61.3 277.26 L62.3 277.26 L63.3 277.26 L64.3 277.26 L65.3 277.26 L66.3 277.26 L67.3 277.26 L68.3 277.26 L69.3 277.26 L70.3 277.26 L71.3 277.26 L72.3 277.26 L73.3 277.26 L74.3 277.26 L75.3 277.26 L76.3 277.26 L77.3 277.26 L78.3 277.26 L79.3 277.26 L80.3 277.26 L81.3 277.26 L82.3 277.26 L83.3 277.26 L84.3 277.26 L85.3 277.26 L86.3 277.26 L87.3 277.26 L88.3 277.26 L89.3 277.26 L90.3 277.26 L91.3 277.26 L92.3 277.26 L93.3 277.26 L94.3 277.26 L95.3 277.26 L96.3 277.26 L97.3 277.26 L98.3 277.26 L99.3 277.26 L100.3 277.26 L101.3 277.26 L102.3 277.26 L103.3 277.26 L104.3 277.26 L105.3 277.26 L106.3 277.26 L107.3 277.26 L108.3 277.26 L109.3 277.26 L110.3 277.26 L111.3 277.26 L112.3 277.26 L113.3 277.26 L114.3 277.26 L115.3 277.26 L116.3 277.26 L117.3 277.26 L118.3 277.26 L119.3 277.26 L120.3 277.26 L121.3 277.26 L122.3 277.26 L123.3 277.26 L124.3 277.26 L125.3 277.26 L126.3 277.26 L127.3 277.26 L128.3 277.26 L129.3 277.26 L130.3 277.26 L131.3 277.26 L132.3 277.26 L133.3 277.26 L134.3 277.26 L135.3 277.26 L136.3 277.26 L137.3 277.26 L138.3 277.26 L139.3 277.26 L140.3 277.26 L141.3 277.26 L142.3 277.26 L143.3 277.26 L144.3 277.26 L145.3 277.26 L146.3 277.26 L147.3 277.26 L148.3 277.26 L149.3 277.26 L150.3 277.26 L151.3 277.26 L152.3 277.26 L153.3 277.26 L154.3 277.26 L155.3 277.26 L156.3 277.25 L157.3 277.25 L158.3 277.25 L159.3 277.25 L160.3 277.25 L161.3 277.25 L162.3 277.25 L163.3 277.25 L164.3 277.25 L165.3 277.24 L166.3 277.24 L167.3 277.24 L168.3 277.24 L169.3 277.24 L170.3 277.23 L171.3 277.23 L172.3 277.23 L173.3 277.23 L174.3 277.22 L175.3 277.22 L176.3 277.21 L177.3 277.21 L178.3 277.20 L179.3 277.20 L180.3 277.19 L181.3 277.19 L182.3 277.18 L183.3 277.17 L184.3 277.16 L185.3 277.15 L186.3 277.14 L187.3 277.13 L188.3 277.12 L189.3 277.10 L190.3 277.09 L191.3 277.07 L192.3 277.05 L193.3 277.03 L194.3 277.01 L195.3 276.99 L196.3 276.97 L197.3 276.94 L198.3 276.91 L199.3 276.88 L200.3 276.84 L201.3 276.81 L202.3 276.77 L203.3 276.72 L204.3 276.68 L205.3 276.63 L206.3 276.57 L207.3 276.51 L208.3 276.45 L209.3 276.39 L210.3 276.31 L211.3 276.24 L212.3 276.16 L213.3 276.07 L214.3 275.98 L215.3 275.88 L216.3 275.78 L217.3 275.67 L218.3 275.55 L219.3 275.42 L220.3 275.28 L221.3 275.13 L222.3 274.97 L223.3 274.79 L224.3 274.59 L225.3 274.36 L226.3 274.11 L227.3 273.82 L228.3 273.49 L229.3 273.11 L230.3 272.67 L231.3 272.15 L232.3 271.54 L233.3 270.83 L234.3 269.99 L235.3 269.02 L236.3 267.89 L237.3 266.60 L238.3 265.13 L239.3 263.48 L240.3 261.61 L241.3 259.48 L242.3 257.00 L243.3 254.14 L244.3 251.10 L245.3 248.29 L246.3 245.96 L247.3 244.10 L248.3 242.57 L249.3 241.29 L250.3 240.19 L251.3 239.24 L252.3 238.41 L253.3 237.68 L254.3 237.04 L255.3 236.48 L256.3 236.00 L257.3 235.59 L258.3 235.25 L259.3 234.96 L260.3 234.72 L261.3 234.52 L262.3 234.35 L263.3 234.22 L264.3 234.11 L265.3 234.02 L266.3 233.95 L267.3 233.89 L268.3 233.85 L269.3 233.81 L270.3 233.78 L271.3 233.75 L272.3 233.73 L273.3 233.71 L274.3 233.69 L275.3 233.68 L276.3 233.66 L277.3 233.65 L278.3 233.64 L279.3 233.62 L280.3 233.61 L281.3 233.60 L282.3 233.59 L283.3 233.56 L284.3 233.52 L285.3 233.45 L286.3 233.36 L287.3 233.30 L288.3 233.27 L289.3 233.26 L290.3 233.25 L291.3 233.24 L292.3 233.23 L293.3 233.23 L294.3 233.22 L295.3 233.22 L296.3 233.21 L297.3 233.21 L298.3 233.21 L299.3 233.21 L300.3 233.20 L301.3 233.20 L302.3 233.20 L303.3 233.20 L304.3 233.20 L305.3 233.20 L306.3 233.20 L307.3 233.20 L308.3 233.20 L309.3 233.20 L310.3 233.20 L311.3 233.20 L312.3 233.20 L313.3 233.20 L314.3 233.20 L315.3 233.20 L316.3 233.20 L317.3 233.20 L318.3 233.20 L319.3 233.20 L320.3 233.20 L321.3 233.20 L322.3 233.20 L323.3 233.20 L324.3 233.20 L325.3 233.20 L326.3 233.20 L327.3 233.20 L328.3 233.20 L329.3 233.20 L330.3 233.20 L331.3 233.20 L332.3 233.20 L333.3 233.20 L334.3 233.20 L335.3 233.20 L336.3 233.20 L337.3 233.20 L338.3 233.20 L339.3 233.20 L340.3 233.20 L341.3 233.20 L342.3 233.20 L343.3 233.20 L344.3 233.20 L345.3 233.20 L346.3 233.20 L347.3 233.20 L348.3 233.20 L349.3 233.20 L350.3 233.20 L351.3 233.20 L352.3 233.20 L353.3 233.20 L354.3 233.20 L355.3 233.20 L356.3 233.20 L357.3 233.20 L358.3 233.20 L359.3 233.20 L360.3 233.20 L361.3 233.20 L362.3 233.20 L363.3 233.20 L364.3 233.20 L365.3 233.19 L366.3 233.19 L367.3 233.19 L368.3 233.19 L369.3 233.19 L370.3 233.19 L371.3 233.19 L372.3 233.19 L373.3 233.19 L374.3 233.19 L375.3 233.18 L376.3 233.18 L377.3 233.18 L378.3 233.18 L379.3 233.18 L380.3 233.18 L381.3 233.18 L382.3 233.18 L383.3 233.17 L384.3 233.17 L385.3 233.17 L386.3 233.17 L387.3 233.17 L388.3 233.17 L389.3 233.16 L390.3 233.16 L391.3 233.16 L392.3 233.16 L393.3 233.16 L394.3 233.15 L395.3 233.15 L396.3 233.15 L397.3 233.15 L398.3 233.15 L399.3 233.15 L400.3 233.14 L401.3 233.14 L402.3 233.14 L403.3 233.14 L404.3 233.14 L405.3 233.13 L406.3 233.13 L407.3 233.13 L408.3 233.13 L409.3 233.13 L410.3 233.12 L411.3 233.12 L412.3 233.12 L413.3 233.12 L414.3 233.12 L415.3 233.12 L416.3 233.11 L417.3 233.11 L418.3 233.11 L419.3 233.11 L420.3 233.11 L421.3 233.10 L422.3 233.10 L423.3 233.10 L424.3 233.10 L425.3 233.10 L426.3 233.10 L427.3 233.09 L428.3 233.09 L429.3 233.09 L430.2 233.09"/>
<path stroke="#00ff00" d="M55.3 309.71 L56.3 309.71 L57.3 309.70 L58.3 309.69 L59.3 309.69 L60.3 309.68 L61.3 309.67 L62.3 309.67 L63.3 309.66 L64.3 309.65 L65.3 309.64 L66.3 309.64 L67.3 309.63 L68.3 309.62 L69.3 309.61 L70.3 309.60 L71.3 309.59 L72.3 309.59 L73.3 309.58 L74.3 309.57 L75.3 309.56 L76.3 309.55 L77.3 309.54 L78.3 309.53 L79.3 309.52 L80.3 309.51 L81.3 309.50 L82.3 309.49 L83.3 309.48 L84.3 309.47 L85.3 309.46 L86.3 309.45 L87.3 309.43 L88.3 309.42 L89.3 309.41 L90.3 309.40 L91.3 309.39 L92.3 309.37 L93.3 309.36 L94.3 309.35 L95.3 309.34 L96.3 309.32 L97.3 309.31 L98.3 309.30 L99.3 309.28 L100.3 309.27 L101.3 309.25 L102.3 309.24 L103.3 309.22 L104.3 309.21 L105.3 309.19 L106.3 309.18 L107.3 309.16 L108.3 309.15 L109.3 309.13 L110.3 309.11 L111.3 309.10 L112.3 309.08 L113.3 309.06 L114.3 309.04 L115.3 309.03 L116.3 309.01 L117.3 308.99 L118.3 308.97 L119.3 308.95 L120.3 308.93 L121.3 308.91 L122.3 308.89 L123.3 308.87 L124.3 308.85 L125.3 308.83 L126.3 308.81 L127.3 308.79 L128.3 308.77 L129.3 308.75 L130.3 308.72 L131.3 308.70 L132.3 308.68 L133.3 308.65 L134.3 308.63 L135.3 308.61 L136.3 308.58 L137.3 308.56 L138.3 308.53 L139.3 308.51 L140.3 308.48 L141.3 308.46 L142.3 308.43 L143.3 308.40 L144.3 308.38 L145.3 308.35 L146.3 308.32 L147.3 308.29 L148.3 308.27 L149.3 308.24 L150.3 308.21 L151.3 308.18 L152.3 308.15 L153.3 308.12 L154.3 308.09 L155.3 308.05 L156.3 308.02 L157.3 307.99 L158.3 307.96 L159.3 307.92 L160.3 307.89 L161.3 307.85 L162.3 307.82 L163.3 307.78 L164.3 307.74 L165.3 307.71 L166.3 307.67 L167.3 307.63 L168.3 307.59 L169.3 307.55 L170.3 307.50 L171.3 307.46 L172.3 307.42 L173.3 307.37 L174.3 307.32 L175.3 307.27 L176.3 307.22 L177.3 307.17 L178.3 307.12 L179.3 307.06 L180.3 307.00 L181.3 306.94 L182.3 306.88 L183.3 306.82 L184.3 306.75 L185.3 306.68 L186.3 306.60 L187.3 306.53 L188.3 306.45 L189.3 306.36 L190.3 306.27 L191.3 306.18 L192.3 306.08 L193.3 305.97 L194.3 305.86 L195.3 305.75 L196.3 305.62 L197.3 305.49 L198.3 305.35 L199.3 305.20 L200.3 305.04 L201.3 304.88 L202.3 304.70 L203.3 304.51 L204.3 304.31 L205.3 304.09 L206.3 303.86 L207.3 303.62 L208.3 303.36 L209.3 303.08 L210.3 302.78 L211.3 302.46 L212.3 302.12 L213.3 301.76 L214.3 301.38 L215.3 300.96 L216.3 300.52 L217.3 300.05 L218.3 299.55 L219.3 299.02 L220.3 298.44 L221.3 297.83 L222.3 297.18 L223.3 296.48 L224.3 295.73 L225.3 294.92 L226.3 294.06 L227.3 293.12 L228.3 292.12 L229.3 291.03 L230.3 289.85 L231.3 288.56 L232.3 287.17 L233.3 285.64 L234.3 283.98 L235.3 282.17 L236.3 280.21 L237.3 278.11 L238.3 275.86 L239.3 273.48 L240.3 271.02 L241.3 268.49 L242.3 265.95 L243.3 263.44 L244.3 261.00 L245.3 258.67 L246.3 256.47 L247.3 254.42 L248.3 252.50 L249.3 250.69 L250.3 248.98 L251.3 247.31 L252.3 245.68 L253.3 244.04 L254.3 242.41 L255.3 240.80 L256.3 239.23 L257.3 237.75 L258.3 236.38 L259.3 235.14 L260.3 234.04 L261.3 233.07 L262.3 232.22 L263.3 231.47 L264.3 230.82 L265.3 230.23 L266.3 229.71 L267.3 229.23 L268.3 228.80 L269.3 228.40 L270.3 228.03 L271.3 227.68 L272.3 227.35 L273.3 227.03 L274.3 226.72 L275.3 226.44 L276.3 226.16 L277.3 225.91 L278.3 225.68 L279.3 225.46 L280.3 225.27 L281.3 225.09 L282.3 224.92 L283.3 224.76 L284.3 224.61 L285.3 224.48 L286.3 224.35 L287.3 224.23 L288.3 224.11 L289.3 224.00 L290.3 223.90 L291.3 223.81 L292.3 223.71 L293.3 223.63 L294.3 223.54 L295.3 223.47 L296.3 223.39 L297.3 223.32 L298.3 223.26 L299.3 223.20 L300.3 223.14 L301.3 223.08 L302.3 223.03 L303.3 222.99 L304.3 222.94 L305.3 222.90 L306.3 222.86 L307.3 222.82 L308.3 222.78 L309.3 222.75 L310.3 222.72 L311.3 222.69 L312.3 222.66 L313.3 222.63 L314.3 222.61 L315.3 222.58 L316.3 222.56 L317.3 222.54 L318.3 222.52 L319.3 222.50 L320.3 222.49 L321.3 222.47 L322.3 222.46 L323.3 222.45 L324.3 222.44 L325.3 222.42 L326.3 222.41 L327.3 222.40 L328.3 222.39 L329.3 222.38 L330.3 222.37 L331.3 222.36 L332.3 222.35 L333.3 222.35 L334.3 222.34 L335.3 222.33 L336.3 222.32 L337.3 222.31 L338.3 222.31 L339.3 222.30 L340.3 222.29 L341.3 222.29 L342.3 222.28 L343.3 222.27 L344.3 222.27 L345.3 222.26 L346.3 222.26 L347.3 222.25 L348.3 222.25 L349.3 222.24 L350.3 222.24 L351.3 222.23 L352.3 222.23 L353.3 222.22 L354.3 222.22 L355.3 222.21 L356.3 222.21 L357.3 222.20 L358.3 222.20 L359.3 222.20 L360.3 222.19 L361.3 222.19 L362.3 222.18 L363.3 222.18 L364.3 222.18 L365.3 222.17 L366.3 222.17 L367.3 222.17 L368.3 222.16 L369.3 222.16 L370.3 222.16 L371.3 222.15 L372.3 222.15 L373.3 222.15 L374.3 222.14 L375.3 222.14 L376.3 222.14 L377.3 222.14 L378.3 222.13 L379.3 222.13 L380.3 222.13 L381.3 222.13 L382.3 222.12 L383.3 222.12 L384.3 222.12 L385.3 222.12 L386.3 222.11 L387.3 222.11 L388.3 222.11 L389.3 222.11 L390.3 222.11 L391.3 222.10 L392.3 222.10 L393.3 222.10 L394.3 222.10 L395.3 222.10 L396.3 222.09 L397.3 222.09 L398.3 222.09 L399.3 222.09 L400.3 222.09 L401.3 222.09 L402.3 222.08 L403.3 222.08 L404.3 222.08 L405.3 222.08 L406.3 222.08 L407.3 222.08 L408.3 222.07 L409.3 222.07 L410.3 222.07 L411.3 222.07 L412.3 222.07 L413.3 222.07 L414.3 222.07 L415.3 222.07 L416.3 222.06 L417.3 222.06 L418.3 222.06 L419.3 222.06 L420.3 222.06 L421.3 222.06 L422.3 222.06 L423.3 222.06 L424.3 222.06 L425.3 222.05 L426.3 222.05 L427.3 222.05 L428.3 222.05 L429.3 222.05 L430.2 222.05"/>
<path stroke="#0000ff" d="M55.3 369.03 L56.3 369.03 L57.3 369.02 L58.3 369.01 L59.3 369.00 L60.3 368.99 L61.3 368.98 L62.3 368.97 L63.3 368.96 L64.3 368.95 L65.3 368.94 L66.3 368.92 L67.3 368.91 L68.3 368.90 L69.3 368.88 L70.3 368.87 L71.3 368.85 L72.3 368.83 L73.3 368.82 L74.3 368.80 L75.3 368.78 L76.3 368.75 L77.3 368.73 L78.3 368.70 L79.3 368.68 L80.3 368.65 L81.3 368.61 L82.3 368.58 L83.3 368.54 L84.3 368.50 L85.3 368.46 L86.3 368.41 L87.3 368.36 L88.3 368.30 L89.3 368.24 L90.3 368.18 L91.3 368.11 L92.3 368.04 L93.3 367.96 L94.3 367.88 L95.3 367.79 L96.3 367.70 L97.3 367.61 L98.3 367.51 L99.3 367.41 L100.3 367.31 L101.3 367.21 L102.3 367.11 L103.3 367.01 L104.3 366.91 L105.3 366.82 L106.3 366.72 L107.3 366.63 L108.3 366.53 L109.3 366.44 L110.3 366.36 L111.3 366.27 L112.3 366.19 L113.3 366.11 L114.3 366.03 L115.3 365.95 L116.3 365.87 L117.3 365.80 L118.3 365.72 L119.3 365.64 L120.3 365.57 L121.3 365.49 L122.3 365.42 L123.3 365.34 L124.3 365.26 L125.3 365.18 L126.3 365.10 L127.3 365.02 L128.3 364.93 L129.3 364.85 L130.3 364.76 L131.3 364.67 L132.3 364.57 L133.3 364.48 L134.3 364.38 L135.3 364.28 L136.3 364.17 L137.3 364.06 L138.3 363.95 L139.3 363.84 L140.3 363.72 L141.3 363.60 L142.3 363.48 L143.3 363.35 L144.3 363.22 L145.3 363.08 L146.3 362.94 L147.3 362.80 L148.3 362.66 L149.3 362.51 L150.3 362.36 L151.3 362.21 L152.3 362.06 L153.3 361.91 L154.3 361.76 L155.3 361.61 L156.3 361.46 L157.3 361.30 L158.3 361.14 L159.3 360.98 L160.3 360.81 L161.3 360.63 L162.3 360.45 L163.3 360.26 L164.3 360.06 L165.3 359.86 L166.3 359.64 L167.3 359.42 L168.3 359.19 L169.3 358.95 L170.3 358.71 L171.3 358.45 L172.3 358.18 L173.3 357.91 L174.3 357.62 L175.3 357.31 L176.3 357.00 L177.3 356.68 L178.3 356.34 L179.3 355.99 L180.3 355.63 L181.3 355.26 L182.3 354.89 L183.3 354.50 L184.3 354.11 L185.3 353.71 L186.3 353.30 L187.3 352.89 L188.3 352.47 L189.3 352.04 L190.3 351.60 L191.3 351.15 L192.3 350.69 L193.3 350.21 L194.3 349.72 L195.3 349.22 L196.3 348.70 L197.3 348.17 L198.3 347.62 L199.3 347.04 L200.3 346.44 L201.3 345.82 L202.3 345.17 L203.3 344.50 L204.3 343.80 L205.3 343.07 L206.3 342.32 L207.3 341.54 L208.3 340.74 L209.3 339.90 L210.3 339.04 L211.3 338.13 L212.3 337.19 L213.3 336.21 L214.3 335.18 L215.3 334.12 L216.3 333.01 L217.3 331.86 L218.3 330.68 L219.3 329.45 L220.3 328.20 L221.3 326.90 L222.3 325.56 L223.3 324.18 L224.3 322.75 L225.3 321.26 L226.3 319.72 L227.3 318.12 L228.3 316.47 L229.3 314.77 L230.3 313.02 L231.3 311.23 L232.3 309.40 L233.3 307.53 L234.3 305.61 L235.3 303.66 L236.3 301.66 L237.3 299.62 L238.3 297.53 L239.3 295.40 L240.3 293.23 L241.3 291.02 L242.3 288.78 L243.3 286.50 L244.3 284.20 L245.3 281.87 L246.3 279.53 L247.3 277.18 L248.3 274.82 L249.3 272.46 L250.3 270.10 L251.3 267.76 L252.3 265.43 L253.3 263.13 L254.3 260.86 L255.3 258.62 L256.3 256.42 L257.3 254.27 L258.3 252.16 L259.3 250.11 L260.3 248.12 L261.3 246.19 L262.3 244.32 L263.3 242.53 L264.3 240.80 L265.3 239.13 L266.3 237.52 L267.3 235.95 L268.3 234.41 L269.3 232.90 L270.3 231.40 L271.3 229.91 L272.3 228.42 L273.3 226.95 L274.3 225.51 L275.3 224.11 L276.3 222.79 L277.3 221.55 L278.3 220.39 L279.3 219.31 L280.3 218.31 L281.3 217.37 L282.3 216.51 L283.3 215.70 L284.3 214.94 L285.3 214.24 L286.3 213.58 L287.3 212.96 L288.3 212.38 L289.3 211.83 L290.3 211.30 L291.3 210.81 L292.3 210.34 L293.3 209.89 L294.3 209.47 L295.3 209.06 L296.3 208.68 L297.3 208.31 L298.3 207.96 L299.3 207.63 L300.3 207.31 L301.3 207.00 L302.3 206.70 L303.3 206.40 L304.3 206.11 L305.3 205.83 L306.3 205.56 L307.3 205.29 L308.3 205.03 L309.3 204.79 L310.3 204.55 L311.3 204.33 L312.3 204.12 L313.3 203.92 L314.3 203.73 L315.3 203.54 L316.3 203.37 L317.3 203.20 L318.3 203.05 L319.3 202.90 L320.3 202.75 L321.3 202.61 L322.3 202.48 L323.3 202.35 L324.3 202.22 L325.3 202.10 L326.3 201.98 L327.3 201.86 L328.3 201.75 L329.3 201.64 L330.3 201.53 L331.3 201.43 L332.3 201.33 L333.3 201.23 L334.3 201.14 L335.3 201.06 L336.3 200.97 L337.3 200.89 L338.3 200.81 L339.3 200.74 L340.3 200.67 L341.3 200.60 L342.3 200.53 L343.3 200.46 L344.3 200.40 L345.3 200.34 L346.3 200.28 L347.3 200.23 L348.3 200.17 L349.3 200.12 L350.3 200.08 L351.3 200.03 L352.3 199.99 L353.3 199.95 L354.3 199.91 L355.3 199.87 L356.3 199.83 L357.3 199.80 L358.3 199.77 L359.3 199.74 L360.3 199.71 L361.3 199.68 L362.3 199.65 L363.3 199.62 L364.3 199.60 L365.3 199.57 L366.3 199.55 L367.3 199.53 L368.3 199.50 L369.3 199.48 L370.3 199.46 L371.3 199.44 L372.3 199.42 L373.3 199.40 L374.3 199.38 L375.3 199.37 L376.3 199.35 L377.3 199.33 L378.3 199.32 L379.3 199.30 L380.3 199.29 L381.3 199.27 L382.3 199.26 L383.3 199.24 L384.3 199.23 L385.3 199.22 L386.3 199.21 L387.3 199.20 L388.3 199.18 L389.3 199.17 L390.3 199.16 L391.3 199.15 L392.3 199.14 L393.3 199.13 L394.3 199.12 L395.3 199.11 L396.3 199.11 L397.3 199.10 L398.3 199.09 L399.3 199.08 L400.3 199.07 L401.3 199.07 L402.3 199.06 L403.3 199.05 L404.3 199.05 L405.3 199.04 L406.3 199.03 L407.3 199.03 L408.3 199.02 L409.3 199.02 L410.3 199.01 L411.3 199.01 L412.3 199.00 L413.3 199.00 L414.3 198.99 L415.3 198.99 L416.3 198.98 L417.3 198.98 L418.3 198.97 L419.3 198.97 L420.3 198.97 L421.3 198.96 L422.3 198.96 L423.3 198.95 L424.3 198.95 L425.3 198.95 L426.3 198.94 L427.3 198.94 L428.3 198.94 L429.3 198.94 L430.2 198.93"/>
</g>
<g stroke="#000" stroke-width="1.05" stroke-dasharray="1.05 2.2" fill="none">
<line x1="56.3" y1="56.5" x2="430.2" y2="56.5"/>
<line x1="56.3" y1="244.35" x2="430.2" y2="244.35"/>
</g>
<g stroke="#000" stroke-width="1" fill="none">
<line x1="78.48" y1="1.50" x2="78.48" y2="6.80"/>
<line x1="78.48" y1="183.70" x2="78.48" y2="194.30"/>
<line x1="78.48" y1="371.00" x2="78.48" y2="376.30"/>
<line x1="101.93" y1="1.50" x2="101.93" y2="6.80"/>
<line x1="101.93" y1="183.70" x2="101.93" y2="194.30"/>
<line x1="101.93" y1="371.00" x2="101.93" y2="376.30"/>
<line x1="125.37" y1="1.50" x2="125.37" y2="6.80"/>
<line x1="125.37" y1="183.70" x2="125.37" y2="194.30"/>
<line x1="125.37" y1="371.00" x2="125.37" y2="376.30"/>
<line x1="148.81" y1="1.50" x2="148.81" y2="12.00"/>
<line x1="148.81" y1="178.50" x2="148.81" y2="199.50"/>
<line x1="148.81" y1="365.80" x2="148.81" y2="376.30"/>
<line x1="172.25" y1="1.50" x2="172.25" y2="6.80"/>
<line x1="172.25" y1="183.70" x2="172.25" y2="194.30"/>
<line x1="172.25" y1="371.00" x2="172.25" y2="376.30"/>
<line x1="195.70" y1="1.50" x2="195.70" y2="6.80"/>
<line x1="195.70" y1="183.70" x2="195.70" y2="194.30"/>
<line x1="195.70" y1="371.00" x2="195.70" y2="376.30"/>
<line x1="219.14" y1="1.50" x2="219.14" y2="6.80"/>
<line x1="219.14" y1="183.70" x2="219.14" y2="194.30"/>
<line x1="219.14" y1="371.00" x2="219.14" y2="376.30"/>
<line x1="242.58" y1="1.50" x2="242.58" y2="12.00"/>
<line x1="242.58" y1="178.50" x2="242.58" y2="199.50"/>
<line x1="242.58" y1="365.80" x2="242.58" y2="376.30"/>
<line x1="266.02" y1="1.50" x2="266.02" y2="6.80"/>
<line x1="266.02" y1="183.70" x2="266.02" y2="194.30"/>
<line x1="266.02" y1="371.00" x2="266.02" y2="376.30"/>
<line x1="289.47" y1="1.50" x2="289.47" y2="6.80"/>
<line x1="289.47" y1="183.70" x2="289.47" y2="194.30"/>
<line x1="289.47" y1="371.00" x2="289.47" y2="376.30"/>
<line x1="312.91" y1="1.50" x2="312.91" y2="6.80"/>
<line x1="312.91" y1="183.70" x2="312.91" y2="194.30"/>
<line x1="312.91" y1="371.00" x2="312.91" y2="376.30"/>
<line x1="336.35" y1="1.50" x2="336.35" y2="12.00"/>
<line x1="336.35" y1="178.50" x2="336.35" y2="199.50"/>
<line x1="336.35" y1="365.80" x2="336.35" y2="376.30"/>
<line x1="359.79" y1="1.50" x2="359.79" y2="6.80"/>
<line x1="359.79" y1="183.70" x2="359.79" y2="194.30"/>
<line x1="359.79" y1="371.00" x2="359.79" y2="376.30"/>
<line x1="383.24" y1="1.50" x2="383.24" y2="6.80"/>
<line x1="383.24" y1="183.70" x2="383.24" y2="194.30"/>
<line x1="383.24" y1="371.00" x2="383.24" y2="376.30"/>
<line x1="406.68" y1="1.50" x2="406.68" y2="6.80"/>
<line x1="406.68" y1="183.70" x2="406.68" y2="194.30"/>
<line x1="406.68" y1="371.00" x2="406.68" y2="376.30"/>
<line x1="55.30" y1="166.60" x2="60.60" y2="166.60"/>
<line x1="424.95" y1="166.60" x2="430.25" y2="166.60"/>
<line x1="55.30" y1="144.58" x2="65.80" y2="144.58"/>
<line x1="419.75" y1="144.58" x2="430.25" y2="144.58"/>
<line x1="55.30" y1="122.56" x2="60.60" y2="122.56"/>
<line x1="424.95" y1="122.56" x2="430.25" y2="122.56"/>
<line x1="55.30" y1="100.54" x2="65.80" y2="100.54"/>
<line x1="419.75" y1="100.54" x2="430.25" y2="100.54"/>
<line x1="55.30" y1="78.52" x2="60.60" y2="78.52"/>
<line x1="424.95" y1="78.52" x2="430.25" y2="78.52"/>
<line x1="55.30" y1="56.50" x2="65.80" y2="56.50"/>
<line x1="419.75" y1="56.50" x2="430.25" y2="56.50"/>
<line x1="55.30" y1="34.48" x2="60.60" y2="34.48"/>
<line x1="424.95" y1="34.48" x2="430.25" y2="34.48"/>
<line x1="55.30" y1="12.46" x2="65.80" y2="12.46"/>
<line x1="419.75" y1="12.46" x2="430.25" y2="12.46"/>
<line x1="55.30" y1="354.50" x2="60.60" y2="354.50"/>
<line x1="424.95" y1="354.50" x2="430.25" y2="354.50"/>
<line x1="55.30" y1="332.46" x2="65.80" y2="332.46"/>
<line x1="419.75" y1="332.46" x2="430.25" y2="332.46"/>
<line x1="55.30" y1="310.42" x2="60.60" y2="310.42"/>
<line x1="424.95" y1="310.42" x2="430.25" y2="310.42"/>
<line x1="55.30" y1="288.38" x2="65.80" y2="288.38"/>
<line x1="419.75" y1="288.38" x2="430.25" y2="288.38"/>
<line x1="55.30" y1="266.34" x2="60.60" y2="266.34"/>
<line x1="424.95" y1="266.34" x2="430.25" y2="266.34"/>
<line x1="55.30" y1="244.30" x2="65.80" y2="244.30"/>
<line x1="419.75" y1="244.30" x2="430.25" y2="244.30"/>
<line x1="55.30" y1="222.26" x2="60.60" y2="222.26"/>
<line x1="424.95" y1="222.26" x2="430.25" y2="222.26"/>
<line x1="55.30" y1="200.22" x2="65.80" y2="200.22"/>
<line x1="419.75" y1="200.22" x2="430.25" y2="200.22"/>
</g>
<g stroke="#000" stroke-width="1.45" fill="none">
<rect x="55.30" y="1.50" width="374.95" height="374.80"/>
<line x1="55.30" y1="189.00" x2="430.25" y2="189.00"/>
</g>
<g style="will-change:opacity;opacity:0.999">
<text class="tl" text-anchor="end" x="50.3" y="18.8">0.4</text>
<text class="tl" text-anchor="end" x="50.3" y="62.8">0</text>
<text class="tl" text-anchor="end" x="50.3" y="106.8">-0.4</text>
<text class="tl" text-anchor="end" x="50.3" y="150.9">-0.8</text>
<text class="tl" text-anchor="end" x="50.3" y="206.5">0.4</text>
<text class="tl" text-anchor="end" x="50.3" y="250.6">0</text>
<text class="tl" text-anchor="end" x="50.3" y="294.7">-0.4</text>
<text class="tl" text-anchor="end" x="50.3" y="338.8">-0.8</text>
<text class="tl" text-anchor="middle" x="56.0" y="394.7">-2</text>
<text class="tl" text-anchor="middle" x="149.3" y="394.7">-1</text>
<text class="tl" text-anchor="middle" x="242.9" y="394.7">0</text>
<text class="tl" text-anchor="middle" x="337.5" y="394.7">1</text>
<text class="tl" text-anchor="middle" x="430.3" y="394.7">2</text>
<text class="cl" x="86.6" y="65.9">0.1</text>
<text class="cl" x="86.6" y="77.2">0.2</text>
<text class="cl" x="86.6" y="98.0">0.4</text>
<text class="cl" x="86.6" y="138.5">0.8</text>
<text class="cl" x="86.6" y="259.6">0.1</text>
<text class="cl" x="86.6" y="274.7">0.2</text>
<text class="cl" x="86.6" y="306.8">0.4</text>
<text class="cl" x="86.6" y="365.0">0.8</text>
<text class="an" x="321.8" y="106.8">S<tspan font-size="12.5px" dy="7.7">0</tspan><tspan dy="-7.7">=1/2</tspan></text>
<text class="an" x="322.6" y="296.5">S<tspan font-size="12.5px" dy="7.7">0</tspan><tspan dy="-7.7">=1</tspan></text>
<text class="ax" transform="translate(15.9 109.7) rotate(-90)">C/J</text>
<text class="ax" transform="translate(15.9 297.7) rotate(-90)">C/J</text>
<text class="ax" x="223.6" y="413.6">J<tspan font-size="14.6px" dy="7.4" style="stroke-width:0.12px">0</tspan><tspan dy="-7.4" dx="5.8">/</tspan><tspan dx="-0.6">J</tspan></text>
</g>
</svg></body></html>
